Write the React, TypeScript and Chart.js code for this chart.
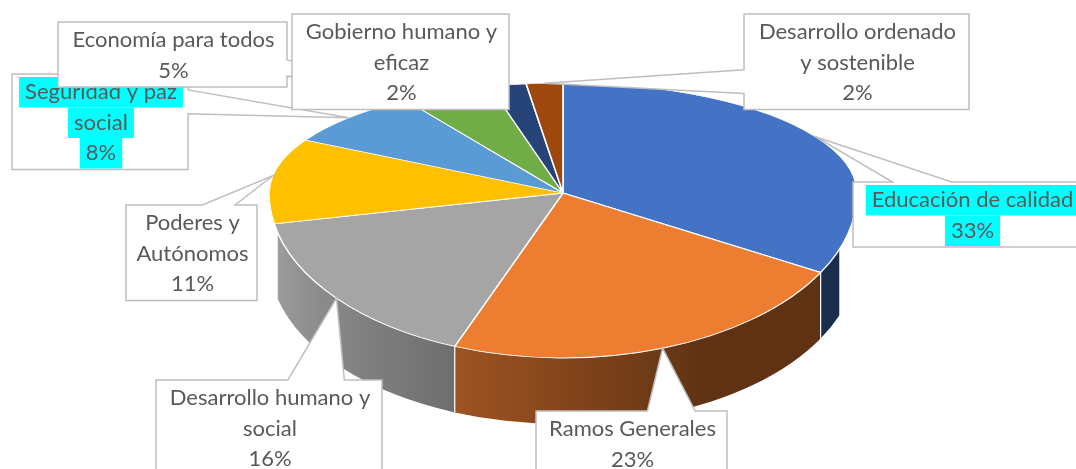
import React, { useEffect, useRef } from "react";
import { Chart, registerables } from "chart.js";

Chart.register(...registerables);

// ---------- data ----------
const CATEGORIES: string[][] = [
  ["Educación de calidad"],
  ["Ramos Generales"],
  ["Desarrollo humano y", "social"],
  ["Poderes y", "Autónomos"],
  ["Seguridad y paz", "social"],
  ["Economía para todos"],
  ["Gobierno humano y", "eficaz"],
  ["Desarrollo ordenado", "y sostenible"],
];
const VALUES: number[] = [33, 23, 16, 11, 8, 5, 2, 2];
const COLORS: string[] = [
  "#4472C4",
  "#ED7D31",
  "#A5A5A5",
  "#FFC000",
  "#5B9BD5",
  "#70AD47",
  "#264478",
  "#9E480E",
];
const HIGHLIGHTED: boolean[] = [true, false, false, false, true, false, false, false];

// ---------- layout (styles / positions, not data) ----------
// label callout boxes: [left, top, width]
const LABEL_BOXES: number[][] = [
  [853, 182, 237],
  [536, 411, 191],
  [156, 380, 226],
  [126, 205, 131],
  [12, 74, 176],
  [58, 22, 229],
  [292, 14, 217],
  [744, 14, 225],
];

const W = 1076;
const H = 469;
const CX = 563;
const CY = 193;
const RADIUS = 294;
const RY_BACK = 110;
const RY_FRONT = 165;
const DEPTH = 66;
const SIDE_FROM = (20 * Math.PI) / 180;
const SIDE_TO = (166 * Math.PI) / 180;
const LINE_H = 30.5;
const FONT = "22px Lato";
const TEXT_COLOR = "#595959";
const BOX_BORDER = "#BFBFBF";
const HIGHLIGHT = "#00FFFF";

function hexToRgb(hex: string): number[] {
  const n = parseInt(hex.slice(1), 16);
  return [(n >> 16) & 255, (n >> 8) & 255, n & 255];
}
function shadeFactor(phi: number): number {
  const deg = (phi * 180) / Math.PI;
  if (deg < 60) return 0.4;
  return Math.min(0.95, 0.4 + (deg - 60) * 0.0052);
}
function shade(hex: string, f: number): string {
  const [r, g, b] = hexToRgb(hex);
  return `rgb(${Math.round(r * f)},${Math.round(g * f)},${Math.round(b * f)})`;
}

const pie3d = {
  id: "pie3d",
  beforeDatasetsDraw(chart: any) {
    const ctx: CanvasRenderingContext2D = chart.ctx;
    const arcs = chart.getDatasetMeta(0).data as any[];
    if (!arcs.length) return;
    const { x, y, outerRadius } = arcs[0].getProps(["x", "y", "outerRadius"], true);
    const R = outerRadius;
    const kF = RY_FRONT / R;
    const kB = RY_BACK / R;
    const ry = R * kF;

    // side walls
    arcs.forEach((arc: any, i: number) => {
      const { startAngle, endAngle } = arc.getProps(["startAngle", "endAngle"], true);
      const a1 = Math.max(startAngle, SIDE_FROM);
      const a2 = Math.min(endAngle, SIDE_TO);
      if (a2 <= a1) return;
      const xl = x + R * Math.cos(a2);
      const xr = x + R * Math.cos(a1);
      const grad = ctx.createLinearGradient(xl, 0, xr, 0);
      const steps = 10;
      for (let s = 0; s <= steps; s++) {
        const phi = a2 + ((a1 - a2) * s) / steps;
        const px = x + R * Math.cos(phi);
        let pos = xr - xl > 0.01 ? (px - xl) / (xr - xl) : s / steps;
        pos = Math.min(1, Math.max(0, pos));
        grad.addColorStop(pos, shade(COLORS[i], shadeFactor(phi)));
      }
      ctx.save();
      ctx.beginPath();
      ctx.ellipse(x, CY, R, ry, 0, a1, a2, false);
      ctx.lineTo(x + R * Math.cos(a2), CY + ry * Math.sin(a2) + DEPTH);
      ctx.ellipse(x, CY + DEPTH, R, ry, 0, a2, a1, true);
      ctx.closePath();
      ctx.fillStyle = grad;
      ctx.fill();
      ctx.restore();
    });
    // separators on the wall
    ctx.save();
    ctx.strokeStyle = "#FFFFFF";
    ctx.lineWidth = 1.2;
    arcs.forEach((arc: any) => {
      const { endAngle } = arc.getProps(["endAngle"], true);
      if (endAngle > SIDE_FROM && endAngle < SIDE_TO) {
        const px = x + R * Math.cos(endAngle);
        const py = CY + ry * Math.sin(endAngle);
        ctx.beginPath();
        ctx.moveTo(px, py);
        ctx.lineTo(px, py + DEPTH);
        ctx.stroke();
      }
    });
    ctx.restore();

    // back half of top face: let Chart.js draw it with a squashed transform
    ctx.save();
    ctx.beginPath();
    ctx.rect(0, 0, chart.width, CY + 0.5);
    ctx.clip();
    ctx.translate(0, CY);
    ctx.scale(1, kB);
    ctx.translate(0, -y);
  },
  afterDatasetsDraw(chart: any) {
    const ctx: CanvasRenderingContext2D = chart.ctx;
    ctx.restore();
    const arcs = chart.getDatasetMeta(0).data as any[];
    if (!arcs.length) return;
    const { y, outerRadius } = arcs[0].getProps(["y", "outerRadius"], true);
    const kF = RY_FRONT / outerRadius;
    // front half of top face
    ctx.save();
    ctx.beginPath();
    ctx.rect(0, CY - 0.5, chart.width, chart.height - CY + 0.5);
    ctx.clip();
    ctx.translate(0, CY);
    ctx.scale(1, kF);
    ctx.translate(0, -y);
    arcs.forEach((arc: any) => arc.draw(ctx));
    ctx.restore();
  },
};

function calloutPath(
  ctx: CanvasRenderingContext2D,
  L: number,
  T: number,
  w: number,
  h: number,
  ax: number,
  ay: number
) {
  const R = L + w;
  const B = T + h;
  const hc = L + w / 2;
  const vc = T + h / 2;
  const dx = ax - hc;
  const dy = ay - vc;
  const inside = ax >= L && ax <= R && ay >= T && ay <= B;
  const dq = (dx * h) / w;
  const dz = Math.abs(dy) - Math.abs(dq);
  const x1 = L + (w * (dx > 0 ? 7 : 2)) / 12;
  const x2 = L + (w * (dx > 0 ? 10 : 5)) / 12;
  const y1 = T + (h * (dy > 0 ? 7 : 2)) / 12;
  const y2 = T + (h * (dy > 0 ? 10 : 5)) / 12;
  let side = "none";
  if (!inside) side = dz > 0 ? (dy < 0 ? "top" : "bottom") : dx < 0 ? "left" : "right";
  ctx.beginPath();
  ctx.moveTo(L, T);
  if (side === "top") {
    ctx.lineTo(x1, T);
    ctx.lineTo(ax, ay);
    ctx.lineTo(x2, T);
  }
  ctx.lineTo(R, T);
  if (side === "right") {
    ctx.lineTo(R, y1);
    ctx.lineTo(ax, ay);
    ctx.lineTo(R, y2);
  }
  ctx.lineTo(R, B);
  if (side === "bottom") {
    ctx.lineTo(x2, B);
    ctx.lineTo(ax, ay);
    ctx.lineTo(x1, B);
  }
  ctx.lineTo(L, B);
  if (side === "left") {
    ctx.lineTo(L, y2);
    ctx.lineTo(ax, ay);
    ctx.lineTo(L, y1);
  }
  ctx.closePath();
}

const callouts = {
  id: "callouts",
  afterDraw(chart: any) {
    const ctx: CanvasRenderingContext2D = chart.ctx;
    const arcs = chart.getDatasetMeta(0).data as any[];
    if (!arcs.length) return;
    const total = VALUES.reduce((a, b) => a + b, 0);
    const labels = chart.data.labels as string[][];
    arcs.forEach((arc: any, i: number) => {
      const { x, startAngle, endAngle, outerRadius } = arc.getProps(
        ["x", "startAngle", "endAngle", "outerRadius"],
        true
      );
      const mid = (startAngle + endAngle) / 2;
      const s = Math.sin(mid);
      const ax = x + outerRadius * Math.cos(mid);
      const ay = CY + (s < 0 ? RY_BACK : RY_FRONT) * s;
      const lines = [...labels[i], `${Math.round((VALUES[i] / total) * 100)}%`];
      const [L, T, w] = LABEL_BOXES[i];
      const h = lines.length * LINE_H + 4;
      ctx.save();
      calloutPath(ctx, L, T, w, h, ax, ay);
      ctx.fillStyle = "#FFFFFF";
      ctx.fill();
      ctx.strokeStyle = BOX_BORDER;
      ctx.lineWidth = 1.5;
      ctx.stroke();
      ctx.font = FONT;
      ctx.textAlign = "center";
      ctx.textBaseline = "middle";
      const tx = L + w / 2 + 1;
      lines.forEach((line, j) => {
        const ty = T + 2 + LINE_H * (j + 0.5);
        if (HIGHLIGHTED[i]) {
          const tw = ctx.measureText(line).width + 12;
          ctx.fillStyle = HIGHLIGHT;
          ctx.fillRect(tx - tw / 2, ty - LINE_H / 2 + 1, tw, LINE_H);
        }
        ctx.fillStyle = TEXT_COLOR;
        ctx.fillText(line, tx, ty + 1);
      });
      ctx.restore();
    });
  },
};

export default function App() {
  const ref = useRef<HTMLCanvasElement>(null);
  useEffect(() => {
    if (!ref.current) return;
    const chart = new Chart(ref.current, {
      type: "pie",
      data: {
        labels: CATEGORIES as any,
        datasets: [
          {
            data: VALUES,
            backgroundColor: COLORS,
            borderColor: "#FFFFFF",
            borderWidth: 1.6,
            radius: RADIUS,
            clip: false,
          } as any,
        ],
      },
      options: {
        responsive: false,
        animation: false,
        devicePixelRatio: 1,
        events: [],
        layout: { padding: { left: 2 * CX - W, right: 0, top: 0, bottom: 0 } },
        plugins: {
          legend: { display: false },
          tooltip: { enabled: false },
        },
      } as any,
      plugins: [pie3d, callouts],
    });
    return () => chart.destroy();
  }, []);
  return (
    <div
      style={{
        position: "absolute",
        left: 0,
        top: 0,
        width: W,
        height: H,
        background: "#FFFFFF",
        overflow: "hidden",
      }}
    >
      <canvas ref={ref} width={W} height={H} style={{ display: "block" }} />
    </div>
  );
}
